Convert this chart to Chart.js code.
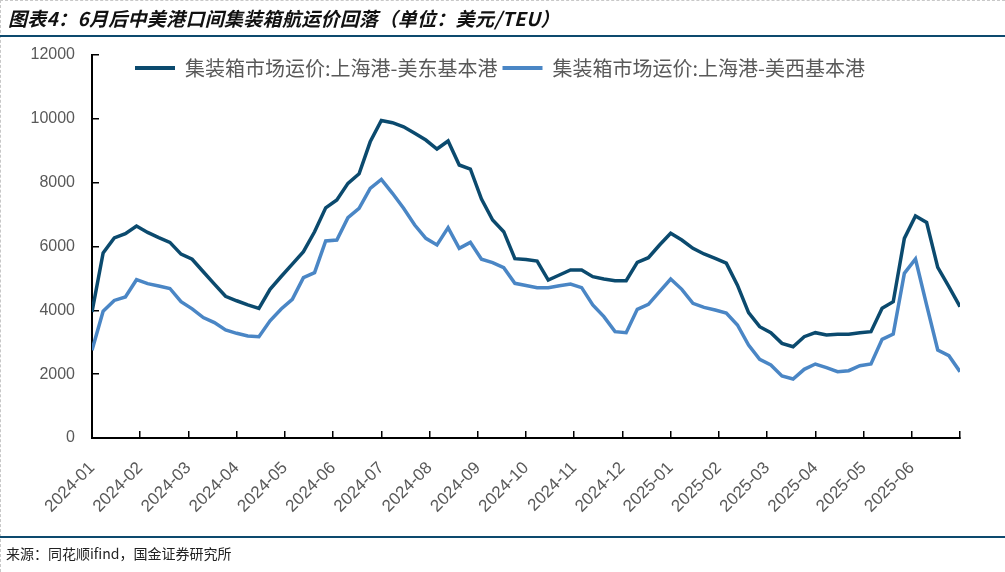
<!DOCTYPE html>
<html><head><meta charset="utf-8">
<script src="https://cdn.jsdelivr.net/npm/chart.js@4.4.1/dist/chart.umd.min.js"></script>
<style>
html,body{margin:0;padding:0;background:#fff;}
#wrap{position:relative;width:1005px;height:572px;overflow:hidden;background:#fff;}
#title{position:absolute;left:8px;top:4px;font:italic bold 19px "Noto Sans CJK SC",sans-serif;letter-spacing:0.3px;color:#111;white-space:nowrap;}
#rule1{position:absolute;left:0;top:35px;width:1005px;height:2px;background:#0d4a6e;}
#rule2{position:absolute;left:0;top:536px;width:1005px;height:2px;background:#0d4a6e;}
#src{position:absolute;left:6px;top:543px;font:14px "Noto Sans CJK SC",sans-serif;color:#222;white-space:nowrap;}
#frameT{position:absolute;left:0;top:0;width:1005px;height:0;border-top:1px dashed #c8c8c8;}
#frameL{position:absolute;left:0;top:0;width:0;height:572px;border-left:1px dashed #c8c8c8;}
canvas{position:absolute;left:0;top:0;}
</style></head>
<body>
<div id="wrap">
<canvas id="c" width="1005" height="572"></canvas>
<div id="frameT"></div><div id="frameL"></div>
<div id="title">图表4：6月后中美港口间集装箱航运价回落（单位：美元/TEU）</div>
<div id="rule1"></div>
<div id="rule2"></div>
<div id="src">来源：同花顺ifind，国金证券研究所</div>
</div>
<script>
const weeks = [
 '2024-01-05','2024-01-12','2024-01-19','2024-01-26','2024-02-02','2024-02-09','2024-02-16','2024-02-23',
 '2024-03-01','2024-03-08','2024-03-15','2024-03-22','2024-03-29','2024-04-05','2024-04-12','2024-04-19',
 '2024-04-26','2024-05-03','2024-05-10','2024-05-17','2024-05-24','2024-05-31','2024-06-07','2024-06-14',
 '2024-06-21','2024-06-28','2024-07-05','2024-07-12','2024-07-19','2024-07-26','2024-08-02','2024-08-09',
 '2024-08-16','2024-08-23','2024-08-30','2024-09-06','2024-09-13','2024-09-20','2024-09-27','2024-10-04',
 '2024-10-11','2024-10-18','2024-10-25','2024-11-01','2024-11-08','2024-11-15','2024-11-22','2024-11-29',
 '2024-12-06','2024-12-13','2024-12-20','2024-12-27','2025-01-03','2025-01-10','2025-01-17','2025-01-24',
 '2025-01-31','2025-02-07','2025-02-14','2025-02-21','2025-02-28','2025-03-07','2025-03-14','2025-03-21',
 '2025-03-28','2025-04-04','2025-04-11','2025-04-18','2025-04-25','2025-05-02','2025-05-09','2025-05-16',
 '2025-05-23','2025-05-30','2025-06-06','2025-06-13','2025-06-20','2025-06-27','2025-07-04'
];
const monthLabels = ['2024-01','2024-02','2024-03','2024-04','2024-05','2024-06','2024-07','2024-08','2024-09',
 '2024-10','2024-11','2024-12','2025-01','2025-02','2025-03','2025-04','2025-05','2025-06'];
const seriesNames = ['集装箱市场运价:上海港-美东基本港','集装箱市场运价:上海港-美西基本港'];
const usEast = [
 3950,5800,6270,6400,6640,6440,6280,6130,5760,5600,5210,4820,4440,4300,4170,4060,
 4660,5060,5450,5840,6460,7210,7460,7980,8280,9280,9950,9880,9750,9545,9336,9054,
 9305,8553,8428,7488,6830,6464,5620,5590,5545,4950,5107,5263,5263,5054,4982,4929,
 4929,5504,5650,6047,6413,6203,5943,5765,5630,5480,4790,3926,3488,3300,2966,2861,
 3175,3300,3227,3248,3248,3300,3331,4062,4271,6255,6955,6756,5347,4741,4114
];
const usWest = [
 2750,3970,4310,4420,4960,4835,4762,4685,4272,4045,3775,3614,3384,3280,3196,3175,
 3670,4040,4345,5023,5180,6172,6203,6903,7196,7822,8100,7666,7196,6673,6255,6047,
 6590,5943,6130,5600,5494,5337,4846,4780,4710,4710,4773,4825,4710,4167,3802,3332,
 3300,4031,4188,4585,4982,4658,4219,4094,4010,3915,3540,2914,2465,2287,1943,1849,
 2151,2318,2203,2078,2109,2266,2318,3091,3258,5159,5608,4167,2757,2579,2078
];
const yMin = 0, yMax = 12000, yStep = 2000;

const colors = ['#0b4a6e', '#4a86c5'];
const toPts = arr => arr.map((v, i) => ({x: i, y: v}));
const lastIdx = weeks.length - 1;
const PLOT_TOP = 55;
const LEGEND_MID = 68;

const legendMove = {
  id: 'legendMove',
  afterLayout(chart) {
    const lg = chart.legend;
    if (!lg) return;
    const pad = lg.options.labels.padding;
    const itemH = lg._itemHeight || lg.options.labels.font.size;
    const newTop = LEGEND_MID - pad - itemH / 2;
    const h = lg.bottom - lg.top;
    lg.top = newTop; lg.bottom = newTop + h;
    const shift = 500 - (lg.left + lg.right) / 2;
    lg.left += shift; lg.right += shift;
  }
};

const chart = new Chart(document.getElementById('c'), {
  type: 'line',
  data: {
    datasets: [
      {label: seriesNames[0], data: toPts(usEast), borderColor: colors[0], backgroundColor: colors[0],
       borderWidth: 3.5, pointRadius: 0, tension: 0, fill: false},
      {label: seriesNames[1], data: toPts(usWest), borderColor: colors[1], backgroundColor: colors[1],
       borderWidth: 3.5, pointRadius: 0, tension: 0, fill: false}
    ]
  },
  options: {
    responsive: false,
    animation: false,
    layout: {padding: {top: 20, left: 0, right: 45, bottom: 42}},
    plugins: {
      tooltip: {enabled: false},
      legend: {
        position: 'top',
        align: 'center',
        labels: {
          boxWidth: 40, boxHeight: 4, padding: 5, color: '#595959',
          font: {family: '"Noto Sans CJK SC"', size: 20},
          generateLabels: c => Chart.defaults.plugins.legend.labels.generateLabels(c)
            .map(l => Object.assign(l, {lineWidth: 0}))
        }
      }
    },
    scales: {
      x: {
        type: 'linear', min: 0, max: lastIdx,
        afterBuildTicks: s => {
          const n = monthLabels.length;
          s.ticks = [];
          for (let k = 0; k <= n; k++) s.ticks.push({value: k * lastIdx / n});
        },
        afterFit: s => { s.height = 92; },
        ticks: {
          autoSkip: false, maxRotation: 45, minRotation: 45, padding: 27,
          color: '#595959', font: {family: '"Liberation Sans", Arial', size: 17},
          callback: (v, i) => monthLabels[i] || ''
        },
        grid: {drawOnChartArea: false, color: '#000', lineWidth: 1.5, tickLength: -7},
        border: {color: '#000', width: 2}
      },
      y: {
        min: yMin, max: yMax,
        afterFit: s => { s.width = 92; },
        ticks: {
          stepSize: yStep, padding: 24, color: '#595959',
          font: {family: '"Liberation Sans", Arial', size: 16},
          callback: v => String(v)
        },
        grid: {drawOnChartArea: false, color: '#000', lineWidth: 1.5, tickLength: -7},
        border: {color: '#000', width: 2}
      }
    }
  },
  plugins: [legendMove]
});
const diff = PLOT_TOP - chart.chartArea.top;
if (Math.abs(diff) > 0.5) {
  chart.options.layout.padding.top += diff;
  chart.update();
}
</script>
</body></html>
